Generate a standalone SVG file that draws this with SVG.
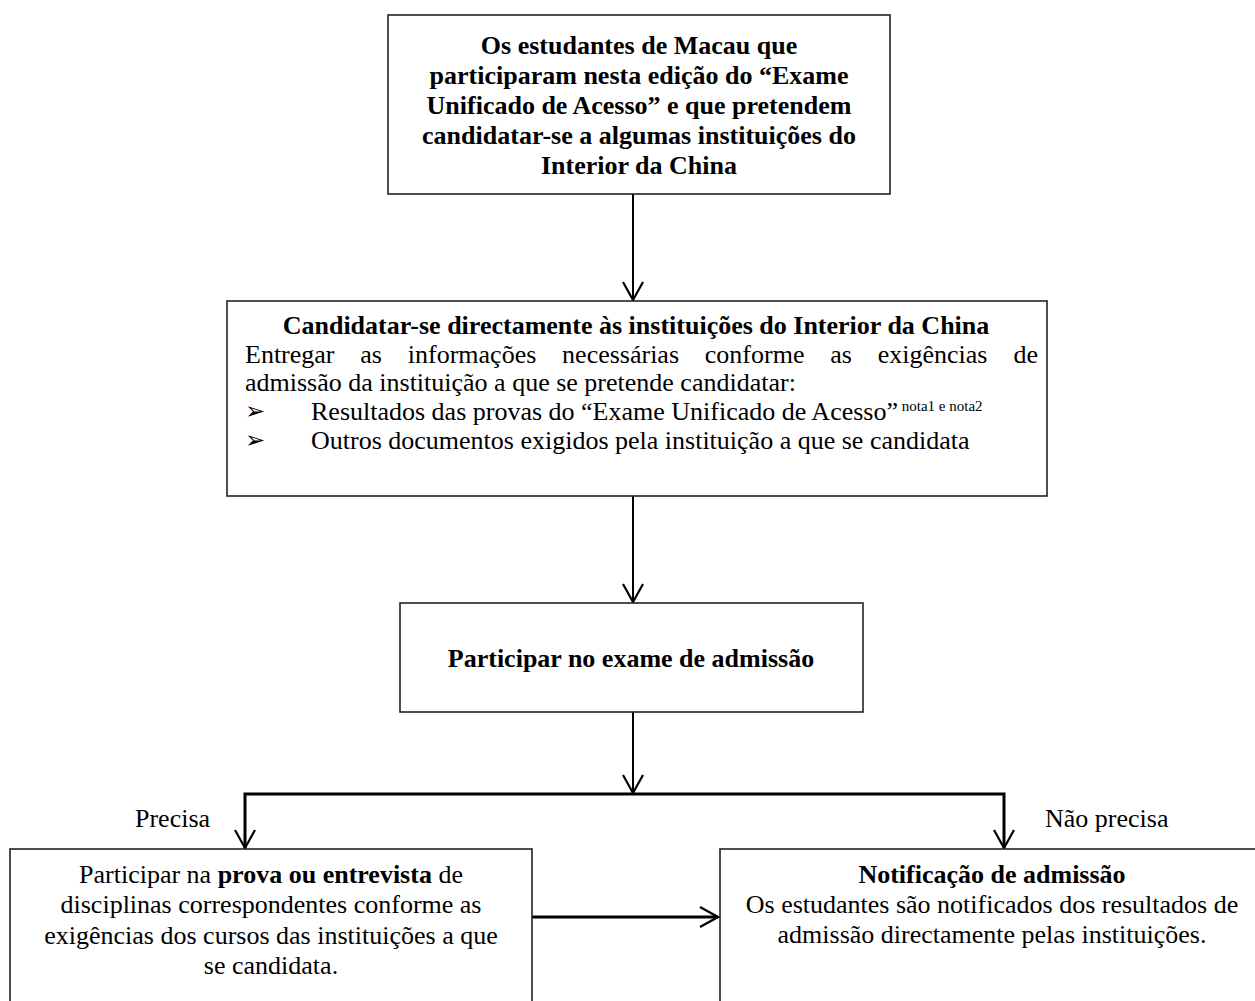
<svg xmlns="http://www.w3.org/2000/svg" width="1255" height="1001" viewBox="0 0 1255 1001">
<style>
.box{fill:#fff;stroke:#222;stroke-width:1.6}
.t{font-family:"Liberation Serif","Times New Roman",serif;font-size:26px;fill:#000}
.b{font-weight:bold}
.c{text-anchor:middle}
.ln{fill:none;stroke:#000;stroke-width:2}
.thick{fill:none;stroke:#000;stroke-width:3}
.bul{font-family:"DejaVu Sans",sans-serif;font-size:24px;fill:#000}
</style>
<defs>
<marker id="arr" viewBox="0 0 24 24" refX="22" refY="12" markerWidth="24" markerHeight="24" orient="auto" markerUnits="userSpaceOnUse">
<path d="M4,2 L22,12 L4,22" fill="none" stroke="#000" stroke-width="2.2"/>
</marker>
</defs>
<g id="connectors">
<line class="ln" x1="633" y1="194" x2="633" y2="300" marker-end="url(#arr)"/>
<line class="ln" x1="633" y1="496" x2="633" y2="602" marker-end="url(#arr)"/>
<line class="ln" x1="633" y1="712" x2="633" y2="793" marker-end="url(#arr)"/>
<polyline class="thick" points="245,848 245,794 1004,794 1004,848"/>
<line class="ln" x1="245" y1="800" x2="245" y2="848" marker-end="url(#arr)"/>
<line class="ln" x1="1004" y1="800" x2="1004" y2="848" marker-end="url(#arr)"/>
<line class="thick" x1="532" y1="917" x2="718" y2="917" marker-end="url(#arr)"/>
<text class="t" x="135" y="827">Precisa</text>
<text class="t" x="1045" y="827">Não precisa</text>
</g>
<g id="node1">
<rect class="box" x="388" y="15" width="502" height="179"/>
<text class="t b c" x="639" y="54">Os estudantes de Macau que</text>
<text class="t b c" x="639" y="84">participaram nesta edição do “Exame</text>
<text class="t b c" x="639" y="114">Unificado de Acesso” e que pretendem</text>
<text class="t b c" x="639" y="144">candidatar-se a algumas instituições do</text>
<text class="t b c" x="639" y="174">Interior da China</text>
</g>
<g id="node2">
<rect class="box" x="227" y="301" width="820" height="195"/>
<text class="t b c" x="636" y="334">Candidatar-se directamente às instituições do Interior da China</text>
<text class="t" y="363"><tspan x="245">Entregar</tspan><tspan x="360.3">as</tspan><tspan x="407.8">informações</tspan><tspan x="562.1">necessárias</tspan><tspan x="704.8">conforme</tspan><tspan x="830.2">as</tspan><tspan x="877.7">exigências</tspan></text>
<text class="t" x="1038" y="363" text-anchor="end">de</text>
<text class="t" x="245" y="391">admissão da instituição a que se pretende candidatar:</text>
<text class="bul" x="245" y="419">➢</text>
<text class="t" x="311" y="420">Resultados das provas do “Exame Unificado de Acesso”<tspan font-size="15" dy="-9"> nota1 e nota2</tspan></text>
<text class="bul" x="245" y="448">➢</text>
<text class="t" x="311" y="449">Outros documentos exigidos pela instituição a que se candidata</text>
</g>
<g id="node3">
<rect class="box" x="400" y="603" width="463" height="109"/>
<text class="t b c" x="631" y="667">Participar no exame de admissão</text>
</g>
<g id="node4">
<rect class="box" x="10" y="849" width="522" height="170"/>
<text class="t c" x="271" y="883">Participar na <tspan font-weight="bold">prova ou entrevista</tspan> de</text>
<text class="t c" x="271" y="913">disciplinas correspondentes conforme as</text>
<text class="t c" x="271" y="944">exigências dos cursos das instituições a que</text>
<text class="t c" x="271" y="974">se candidata.</text>
</g>
<g id="node5">
<rect class="box" x="720" y="849" width="545" height="170"/>
<text class="t b c" x="992" y="883">Notificação de admissão</text>
<text class="t c" x="992" y="913">Os estudantes são notificados dos resultados de</text>
<text class="t c" x="992" y="943">admissão directamente pelas instituições.</text>
</g>
</svg>
